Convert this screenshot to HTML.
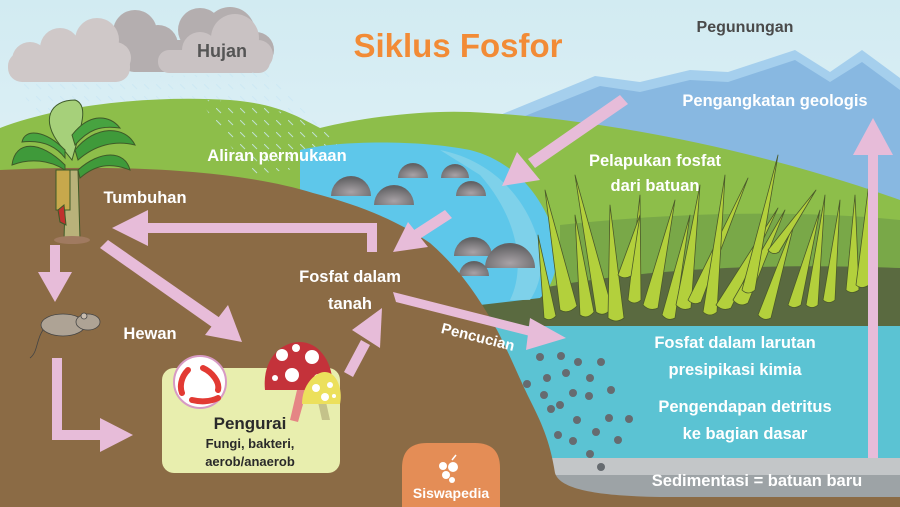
<!DOCTYPE html>
<html><head><meta charset="utf-8"><style>
html,body{margin:0;padding:0;background:#fff;}
svg{display:block;}
text{font-family:"Liberation Sans","DejaVu Sans",sans-serif;font-weight:bold;}
</style></head><body>
<svg width="900" height="507" viewBox="0 0 900 507" xmlns="http://www.w3.org/2000/svg">
<defs>
<linearGradient id="sky" x1="0" y1="0" x2="0" y2="1"><stop offset="0" stop-color="#d2ebf2"/><stop offset="1" stop-color="#f3f9fb"/></linearGradient>
<radialGradient id="rock" cx="0.5" cy="0.8" r="0.7"><stop offset="0" stop-color="#a8a2a6"/><stop offset="1" stop-color="#626264"/></radialGradient>
<pattern id="rain" width="12" height="12" patternUnits="userSpaceOnUse"><line x1="0" y1="0" x2="5" y2="5" stroke="#cde9f4" stroke-width="1"/></pattern>
</defs>
<rect width="900" height="507" fill="url(#sky)"/>
<!-- clouds -->
<g fill="#b4aeaf"><circle cx="135" cy="32" r="22"/><circle cx="158" cy="45" r="20"/><circle cx="200" cy="30" r="22"/><circle cx="230" cy="32" r="25"/><circle cx="256" cy="50" r="18"/><rect x="120" y="40" width="150" height="32" rx="14"/></g>
<g fill="#cfc8c8"><circle cx="30" cy="60" r="18"/><circle cx="60" cy="48" r="20"/><circle cx="97" cy="40" r="22"/><circle cx="115" cy="58" r="16"/><rect x="8" y="52" width="122" height="30" rx="14"/></g>
<g fill="#c9c2c3"><circle cx="200" cy="50" r="18"/><circle cx="235" cy="38" r="24"/><circle cx="258" cy="55" r="15"/><rect x="158" y="50" width="112" height="23" rx="11"/></g>
<!-- rain -->
<polygon points="20,82 270,72 360,160 60,190" fill="url(#rain)"/>
<!-- mountains -->
<polygon points="500,115 595,76 640,82 690,70 728,72 795,50 830,72 862,50 900,78 900,230 500,230" fill="#a5cfed"/>
<polygon points="520,118 600,86 640,92 690,80 728,82 795,60 830,82 862,62 900,90 900,230 520,230" fill="#88b8e1"/>
<!-- green hills -->
<path d="M0,128 C60,105 150,95 230,100 C280,104 300,118 320,128 C360,118 420,110 470,112 C600,118 760,150 900,200 L900,340 L0,340 Z" fill="#8dbe4a"/>
<path d="M200,100 C260,100 300,118 320,128 L360,160 L250,175 Z" fill="url(#rain)" opacity="0.8"/>
<path d="M560,225 C680,212 800,210 900,220 L900,340 L560,340 Z" fill="#79a848"/>
<path d="M480,302 C560,280 700,260 900,268 L900,340 L480,340 Z" fill="#5a6a40"/>
<!-- river -->
<path d="M300,150 C340,140 420,140 470,150 C510,160 540,190 555,235 C560,260 555,285 540,298 L480,305 C450,260 400,220 300,190 Z" fill="#5ec7ea"/>
<path d="M440,150 C490,160 525,195 538,240 C545,265 540,285 530,300 L510,300 C525,270 520,220 480,175 Z" fill="#86d3ea" opacity="0.8"/>
<!-- pool & sediment -->
<rect x="480" y="326" width="420" height="140" fill="#5bc3d3"/>
<rect x="480" y="458" width="420" height="18" fill="#c3c6c8"/>
<rect x="480" y="475" width="420" height="22" fill="#9da3a6"/>
<!-- rocks -->
<g fill="url(#rock)">
<path d="M331,196 a20,20 0 0 1 40,0 Z"/><path d="M374,205 a20,20 0 0 1 40,0 Z"/><path d="M398,178 a15,15 0 0 1 30,0 Z"/><path d="M441,178 a14,14 0 0 1 28,0 Z"/><path d="M456,196 a15,15 0 0 1 30,0 Z"/><path d="M454,256 a19,19 0 0 1 38,0 Z"/><path d="M485,268 a25,25 0 0 1 50,0 Z"/><path d="M459,276 a15,15 0 0 1 30,0 Z"/>
</g>
<!-- brown ground -->
<path d="M0,170 C120,164 240,170 313,193 C360,205 400,222 430,243 C455,265 475,290 497,330 C510,355 520,380 530,400 C540,420 550,440 555,473 C560,490 600,496 660,497 L900,497 L900,507 L0,507 Z" fill="#8b6b45"/>
<!-- grass -->
<g fill="#b3d03c" stroke="#4b5a2a" stroke-width="0.8" stroke-linejoin="round">
<path d="M544,318 L538,235 L556,316 Q550,322 544,318 Z"/>
<path d="M560,310 L545,190 L577,306 Q568,315 560,310 Z"/>
<path d="M580,315 L575,215 L594,312 Q587,320 580,315 Z"/>
<path d="M596,312 L575,175 L612,308 Q604,318 596,312 Z"/>
<path d="M608,318 L610,205 L624,318 Q616,324 608,318 Z"/>
<path d="M628,300 L640,195 L641,300 Q634,306 628,300 Z"/>
<path d="M643,305 L675,200 L658,308 Q650,312 643,305 Z"/>
<path d="M662,315 L690,215 L675,318 Q668,322 662,315 Z"/>
<path d="M676,305 L700,185 L691,308 Q683,312 676,305 Z"/>
<path d="M688,300 L748,178 L701,302 Q694,306 688,300 Z"/>
<path d="M703,312 L725,175 L717,312 Q710,318 703,312 Z"/>
<path d="M716,305 L778,208 L731,308 Q723,312 716,305 Z"/>
<path d="M733,300 L785,210 L748,303 Q740,308 733,300 Z"/>
<path d="M742,290 L778,155 L755,290 Q748,296 742,290 Z"/>
<path d="M758,315 L795,220 L771,318 Q764,322 758,315 Z"/>
<path d="M788,305 L820,210 L801,305 Q794,310 788,305 Z"/>
<path d="M806,305 L825,195 L818,305 Q812,310 806,305 Z"/>
<path d="M823,300 L840,200 L835,300 Q829,305 823,300 Z"/>
<path d="M846,290 L855,195 L859,290 Q852,295 846,290 Z"/>
<path d="M856,285 L870,175 L869,285 Q862,290 856,285 Z"/>
<path d="M768,250 L816,190 L779,252 Q773,256 768,250 Z"/>
<path d="M618,275 L640,215 L631,276 Q624,280 618,275 Z"/>
</g>
<!-- banana plant -->
<g stroke="#3e5a28" stroke-width="1">
<path d="M60,145 C40,120 50,100 75,100 C90,105 80,130 72,160 Z" fill="#a6d07a"/>
<path d="M65,165 C40,140 15,140 12,165 C30,158 50,160 65,170 Z" fill="#3f9a3a"/>
<path d="M65,150 C45,130 25,128 22,142 C40,140 55,145 65,158 Z" fill="#47a340"/>
<path d="M75,150 C95,125 125,125 135,145 C115,140 95,145 78,160 Z" fill="#3f9a3a"/>
<path d="M78,170 C100,150 125,150 130,170 C110,162 95,165 80,178 Z" fill="#3f9a3a"/>
<path d="M72,135 C90,112 110,115 120,128 C100,125 88,130 75,145 Z" fill="#47a340"/>
<path d="M66,170 L64,240 L80,240 L78,170 Z" fill="#b9b27a"/>
<rect x="56" y="170" width="14" height="40" fill="#c7a84c"/>
<path d="M58,210 L64,205 L66,225 L60,222 Z" fill="#c0302e"/>
</g>
<ellipse cx="72" cy="240" rx="18" ry="4" fill="#a07a60"/>
<!-- mouse -->
<g stroke="#444" stroke-width="0.8"><ellipse cx="63" cy="325" rx="22" ry="11" fill="#aea395"/><ellipse cx="88" cy="322" rx="12" ry="8" fill="#aea395"/><circle cx="84" cy="316" r="3" fill="#c9bdb0"/><path d="M43,330 C36,340 38,352 30,358" fill="none"/></g>
<!-- Pengurai box -->
<rect x="162" y="368" width="178" height="105" rx="12" fill="#e8eeae"/>
<circle cx="200" cy="382" r="26" fill="#fff" stroke="#d79ac4" stroke-width="2"/>
<g stroke="#e23a33" stroke-width="6" stroke-linecap="round" fill="none"><path d="M188,370 C180,378 180,388 182,393"/><path d="M203,368 C212,372 220,382 218,390"/><path d="M192,400 C200,402 210,402 218,398"/></g>
<path d="M297,390 L307,390 L298,422 L290,420 Z" fill="#e58585"/>
<path d="M265,390 C262,360 280,342 300,342 C320,342 335,365 332,390 Z" fill="#c4323a"/>
<g fill="#fff"><circle cx="282" cy="355" r="6"/><circle cx="296" cy="348" r="4"/><circle cx="312" cy="357" r="7"/><circle cx="292" cy="375" r="7"/><circle cx="275" cy="378" r="3"/><circle cx="318" cy="378" r="4"/></g>
<path d="M318,402 L326,402 L330,420 L322,420 Z" fill="#c4c28a"/>
<path d="M302,404 C302,385 315,372 325,372 C337,372 343,390 340,404 Z" fill="#ece05c"/>
<g fill="#fff"><circle cx="316" cy="388" r="4"/><circle cx="330" cy="385" r="3"/><circle cx="325" cy="397" r="4"/><circle cx="334" cy="396" r="2"/></g>
<!-- dots -->
<g fill="#666b70"><circle cx="540" cy="357" r="4"/><circle cx="561" cy="356" r="4"/><circle cx="578" cy="362" r="4"/><circle cx="601" cy="362" r="4"/><circle cx="527" cy="384" r="4"/><circle cx="547" cy="378" r="4"/><circle cx="566" cy="373" r="4"/><circle cx="590" cy="378" r="4"/><circle cx="544" cy="395" r="4"/><circle cx="573" cy="393" r="4"/><circle cx="589" cy="396" r="4"/><circle cx="611" cy="390" r="4"/><circle cx="551" cy="409" r="4"/><circle cx="560" cy="405" r="4"/><circle cx="577" cy="420" r="4"/><circle cx="609" cy="418" r="4"/><circle cx="629" cy="419" r="4"/><circle cx="558" cy="435" r="4"/><circle cx="573" cy="441" r="4"/><circle cx="596" cy="432" r="4"/><circle cx="618" cy="440" r="4"/><circle cx="590" cy="454" r="4"/><circle cx="601" cy="467" r="4"/></g>
<!-- arrows -->
<g fill="#e7bcd9" stroke="none">
<path d="M367,252 L367,233 L145,233 L145,223 L377,223 L377,252 Z"/>
<polygon points="112,228 148,210 148,246"/>
<path d="M445,210 L452,218 L418,240 L411,232 Z"/><polygon points="393,252 408,222 428,247"/>
<path d="M620,95 L628,104 L535,168 L528,159 Z"/><polygon points="502,186 517,152 540,180"/>
<rect x="868" y="150" width="10" height="308"/><polygon points="873,118 853,155 893,155"/>
<rect x="50" y="245" width="10" height="30"/><polygon points="55,302 38,272 72,272"/>
<path d="M100,248 L108,240 L220,318 L212,327 Z"/><polygon points="242,342 205,335 228,305"/>
<path d="M52,358 L62,358 L62,430 L100,430 L100,440 L52,440 Z"/><polygon points="133,435 100,418 100,452"/>
<path d="M344,372 L353,377 L370,345 L361,340 Z"/><polygon points="382,308 352,330 380,348"/>
<path d="M393,292 L396,302 L538,338 L535,328 Z"/><polygon points="566,338 530,318 526,350"/>
</g>
<!-- Siswapedia tab -->
<path d="M402,507 L402,468 Q402,443 427,443 L475,443 Q500,443 500,468 L500,507 Z" fill="#e48d56"/>
<g fill="#fff"><circle cx="443" cy="466" r="4"/><circle cx="453" cy="467" r="5"/><circle cx="446" cy="475" r="4"/><circle cx="452" cy="480" r="3"/><path d="M452,460 L456,455" stroke="#fff" stroke-width="1.5"/></g>
<text x="451" y="498" font-size="14" fill="#fff" text-anchor="middle">Siswapedia</text>
<!-- texts -->
<text x="222" y="57" font-size="18" fill="#555" text-anchor="middle">Hujan</text>
<text x="458" y="57" font-size="33" fill="#f28b36" text-anchor="middle">Siklus Fosfor</text>
<text x="745" y="32" font-size="16" fill="#4a4a4a" text-anchor="middle">Pegunungan</text>
<g fill="#fff" font-size="16.5" text-anchor="middle">
<text x="775" y="106">Pengangkatan geologis</text>
<text x="277" y="161">Aliran permukaan</text>
<text x="655" y="166">Pelapukan fosfat</text>
<text x="655" y="191">dari batuan</text>
<text x="145" y="203">Tumbuhan</text>
<text x="150" y="339">Hewan</text>
<text x="350" y="282">Fosfat dalam</text>
<text x="350" y="309">tanah</text>
<text x="735" y="348">Fosfat dalam larutan</text>
<text x="735" y="375">presipikasi kimia</text>
<text x="745" y="412">Pengendapan detritus</text>
<text x="745" y="439">ke bagian dasar</text>
<text x="757" y="486">Sedimentasi = batuan baru</text>
<text x="478" y="342" transform="rotate(14 478 337)" font-size="15">Pencucian</text>
</g>
<text x="250" y="429" font-size="17" fill="#2a2a2a" text-anchor="middle">Pengurai</text>
<text x="250" y="448" font-size="13" fill="#2a2a2a" text-anchor="middle">Fungi, bakteri,</text>
<text x="250" y="466" font-size="13" fill="#2a2a2a" text-anchor="middle">aerob/anaerob</text>
</svg>
</body></html>
